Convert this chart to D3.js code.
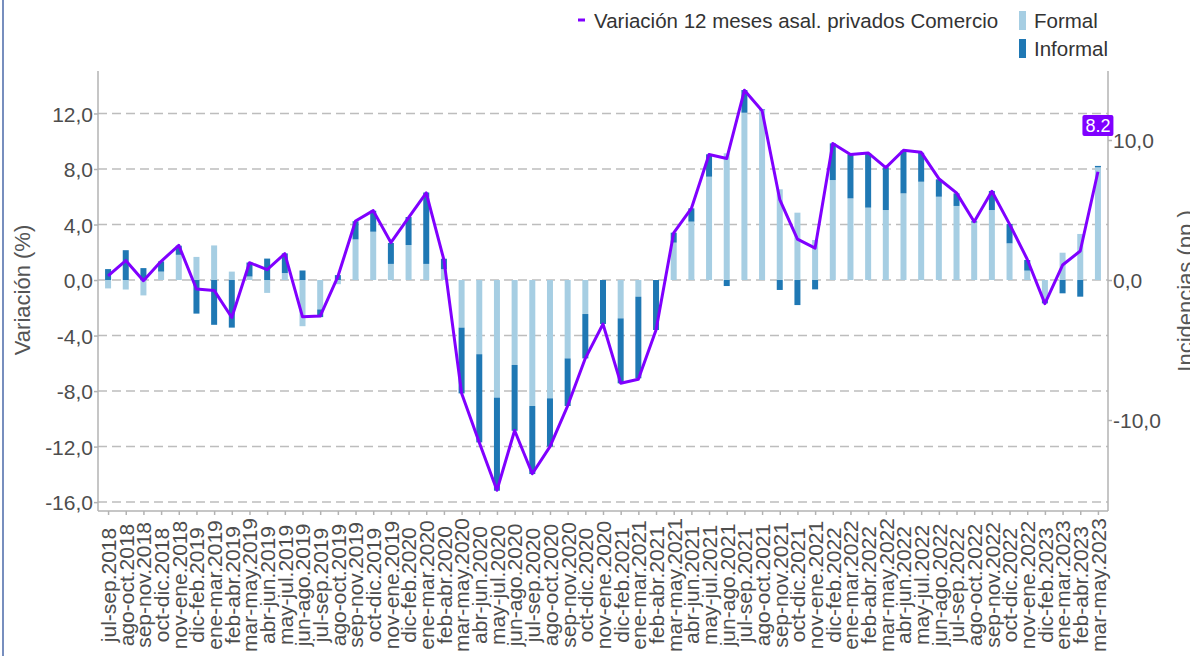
<!doctype html>
<html>
<head>
<meta charset="utf-8">
<script src="https://d3js.org/d3.v7.min.js"></script>
<style>
  body { margin: 0; background: white; }
  svg { display: block; background: white; font-family: "Liberation Sans", Arial, sans-serif; }
  .grid line { stroke: #bdbdbd; stroke-width: 1.5; stroke-dasharray: 9,5; }
  .axis path, .axis line { stroke: #b3b3b3; stroke-width: 1.5; }
  .axis text { fill: #4d4d4d; font-size: 21px; font-family: "Liberation Sans", Arial, sans-serif; }
  .title { fill: #555; font-size: 22px; }
  .legend text { fill: #333; font-size: 20.5px; font-family: "Liberation Sans", Arial, sans-serif; }
</style>
</head>
<body>
<svg width="1190" height="656"></svg>
<script>
// periods (moving quarters)
var periods = ["jul-sep.2018","ago-oct.2018","sep-nov.2018","oct-dic.2018","nov-ene.2018",
  "dic-feb.2019","ene-mar.2019","feb-abr.2019","mar-may.2019","abr-jun.2019","may-jul.2019",
  "jun-ago.2019","jul-sep.2019","ago-oct.2019","sep-nov.2019","oct-dic.2019","nov-ene.2019",
  "dic-feb.2020","ene-mar.2020","feb-abr.2020","mar-may.2020","abr-jun.2020","may-jul.2020",
  "jun-ago.2020","jul-sep.2020","ago-oct.2020","sep-nov.2020","oct-dic.2020","nov-ene.2020",
  "dic-feb.2021","ene-mar.2021","feb-abr.2021","mar-may.2021","abr-jun.2021","may-jul.2021",
  "jun-ago.2021","jul-sep.2021","ago-oct.2021","sep-nov.2021","oct-dic.2021","nov-ene.2021",
  "dic-feb.2022","ene-mar.2022","feb-abr.2022","mar-may.2022","abr-jun.2022","may-jul.2022",
  "jun-ago.2022","jul-sep.2022","ago-oct.2022","sep-nov.2022","oct-dic.2022","nov-ene.2022",
  "dic-feb.2023","ene-mar.2023","feb-abr.2023","mar-may.2023"];

// variacion 12 meses (%), left axis
var variacion = [0.3, 1.4, -0.05, 1.35, 2.5, -0.65, -0.75, -2.7, 1.25, 0.75,
  1.9, -2.65, -2.6, 0.25, 4.25, 5.0, 2.7, 4.5, 6.28, 1.45,
  -8.15, -11.7, -15.15, -10.84, -13.96, -12.0, -9.06, -5.64, -3.17, -7.43,
  -7.15, -3.6, 3.4, 5.16, 9.04, 8.75, 13.67, 12.2, 5.8, 2.95,
  2.3, 9.83, 9.04, 9.16, 8.1, 9.35, 9.2, 7.3, 6.28, 4.2,
  6.4, 4.03, 1.5, -1.7, 1.08, 2.09, 7.8];

// incidencias (pp.), right axis
var formal = [-0.6, -0.68, -1.1, 0.6, 1.8, 1.65, 2.47, 0.6, 0.25, -0.92,
  0.5, -3.3, -2.1, -0.3, 2.9, 3.45, 1.15, 2.5, 1.15, 0.77,
  -3.4, -5.3, -8.4, -6.07, -9.0, -8.45, -5.6, -2.43, 0, -2.74,
  -1.19, 0, 2.67, 4.17, 7.38, 9.05, 11.95, 12.14, 6.48, 4.81,
  2.86, 7.14, 5.83, 5.17, 5.0, 6.19, 7.02, 5.95, 5.29, 4.1,
  5.0, 2.62, 0.67, -1.43, 1.95, 3.29, 8.05];
var informal = [0.78, 2.13, 0.85, 0.73, 0.65, -2.4, -3.2, -3.4, 1.0, 1.53,
  1.4, 0.68, -0.55, 0.35, 1.3, 1.5, 1.5, 2.0, 5.1, 0.75,
  -4.7, -6.3, -6.65, -4.7, -4.86, -3.45, -3.4, -3.17, -3.14, -4.64,
  -5.83, -3.57, 0.71, 0.95, 1.6, -0.43, 1.62, 0.05, -0.71, -1.79,
  -0.67, 2.62, 3.14, 3.88, 3.05, 3.05, 2.07, 1.24, 0.9, 0.1,
  1.36, 1.38, 0.76, -0.24, -0.95, -1.19, 0.1];

var leftTicks = [-16, -12, -8, -4, 0, 4, 8, 12];
var rightTicks = [-10, 0, 10];
var lastLabel = "8.2";

var colFormal = "#a6cee3", colInformal = "#1f78b4", colLine = "#8000ff";

// plot box (note: "top" is taken by window, so use other names)
var pLeft = 98, pRight = 1108, pTop = 71, pBottom = 511;

var svg = d3.select("svg");

var x = d3.scalePoint().domain(periods).range([pLeft, pRight]).padding(0.57);
var yL = d3.scaleLinear().domain([-16.64, 15.06]).range([pBottom, pTop]);
var yR = d3.scaleLinear().domain([-16.5, 14.93]).range([pBottom, pTop]);

var fmt = function (d) { return d3.format(".1f")(d).replace(".", ",").replace("−", "-"); };

// grid
svg.append("g").attr("class", "grid")
  .selectAll("line").data(leftTicks).join("line")
  .attr("x1", pLeft).attr("x2", pRight)
  .attr("y1", function (d) { return yL(d); })
  .attr("y2", function (d) { return yL(d); });

// bars
var rows = periods.map(function (p, i) { return { p: p, Formal: formal[i], Informal: informal[i] }; });
var stack = d3.stack().keys(["Formal", "Informal"]).offset(d3.stackOffsetDiverging);
var series = stack(rows);
var colors = { Formal: colFormal, Informal: colInformal };

svg.append("g").selectAll("g").data(series).join("g")
  .attr("fill", function (s) { return colors[s.key]; })
  .selectAll("rect").data(function (s) { return s; }).join("rect")
  .attr("x", function (d) { return x(d.data.p) - 3; })
  .attr("width", 6)
  .attr("y", function (d) { return yR(Math.max(d[0], d[1])); })
  .attr("height", function (d) { return Math.abs(yR(d[0]) - yR(d[1])); });

// line
var line = d3.line()
  .x(function (d, i) { return x(periods[i]); })
  .y(function (d) { return yL(d); });
svg.append("path").datum(variacion)
  .attr("d", line)
  .attr("fill", "none")
  .attr("stroke", colLine)
  .attr("stroke-width", 3)
  .attr("stroke-linejoin", "round");

// axes
var xAxis = svg.append("g").attr("class", "axis")
  .attr("transform", "translate(0," + pBottom + ")")
  .call(d3.axisBottom(x).tickSizeInner(4).tickSizeOuter(0));
xAxis.select(".domain").attr("d", "M" + pLeft + ",0H" + pRight);
xAxis.selectAll("text")
  .attr("transform", "translate(0,74) rotate(-90)")
  .attr("x", 0).attr("y", 0).attr("dy", "0.35em")
  .style("text-anchor", "middle");

var yAxisL = svg.append("g").attr("class", "axis")
  .attr("transform", "translate(" + pLeft + ",0)")
  .call(d3.axisLeft(yL).tickValues(leftTicks).tickFormat(fmt).tickSizeInner(4).tickSizeOuter(0).tickPadding(1));
yAxisL.select(".domain").attr("d", "M0," + pTop + "V" + pBottom);
yAxisL.selectAll("text").attr("dy", "0.36em");

var yAxisR = svg.append("g").attr("class", "axis")
  .attr("transform", "translate(" + pRight + ",0)")
  .call(d3.axisRight(yR).tickValues(rightTicks).tickFormat(fmt).tickSizeInner(4).tickSizeOuter(0).tickPadding(1));
yAxisR.select(".domain").attr("d", "M0," + pTop + "V" + pBottom);
yAxisR.selectAll("text").attr("dy", "0.36em");

// axis titles
svg.append("text").attr("class", "title")
  .attr("transform", "translate(30,290) rotate(-90)")
  .attr("text-anchor", "middle")
  .text("Variación (%)");
svg.append("text").attr("class", "title")
  .attr("transform", "translate(1193,291) rotate(-90)")
  .attr("text-anchor", "middle")
  .text("Incidencias (pp.)");

// last value label
var lx = x(periods[periods.length - 1]);
svg.append("rect").attr("x", lx - 15.5).attr("y", 115).attr("width", 31).attr("height", 21)
  .attr("rx", 2).attr("fill", colLine);
svg.append("text").attr("x", lx).attr("y", 132).attr("text-anchor", "middle")
  .attr("fill", "white").style("font-size", "18px").text(lastLabel);

// legend
var lg = svg.append("g").attr("class", "legend");
lg.append("line").attr("x1", 578).attr("x2", 585).attr("y1", 20).attr("y2", 20)
  .attr("stroke", colLine).attr("stroke-width", 3);
lg.append("text").attr("x", 594).attr("y", 27.5).text("Variación 12 meses asal. privados Comercio");
lg.append("rect").attr("x", 1019).attr("y", 11).attr("width", 7).attr("height", 19).attr("fill", colFormal);
lg.append("text").attr("x", 1034).attr("y", 27.5).text("Formal");
lg.append("rect").attr("x", 1019).attr("y", 39).attr("width", 7).attr("height", 19).attr("fill", colInformal);
lg.append("text").attr("x", 1034).attr("y", 55.5).text("Informal");

// frame edge on the left
svg.append("line").attr("x1", 3).attr("x2", 3).attr("y1", 0).attr("y2", 656)
  .attr("stroke", "#4a68a8").attr("stroke-width", 1.5);
</script>
</body>
</html>
